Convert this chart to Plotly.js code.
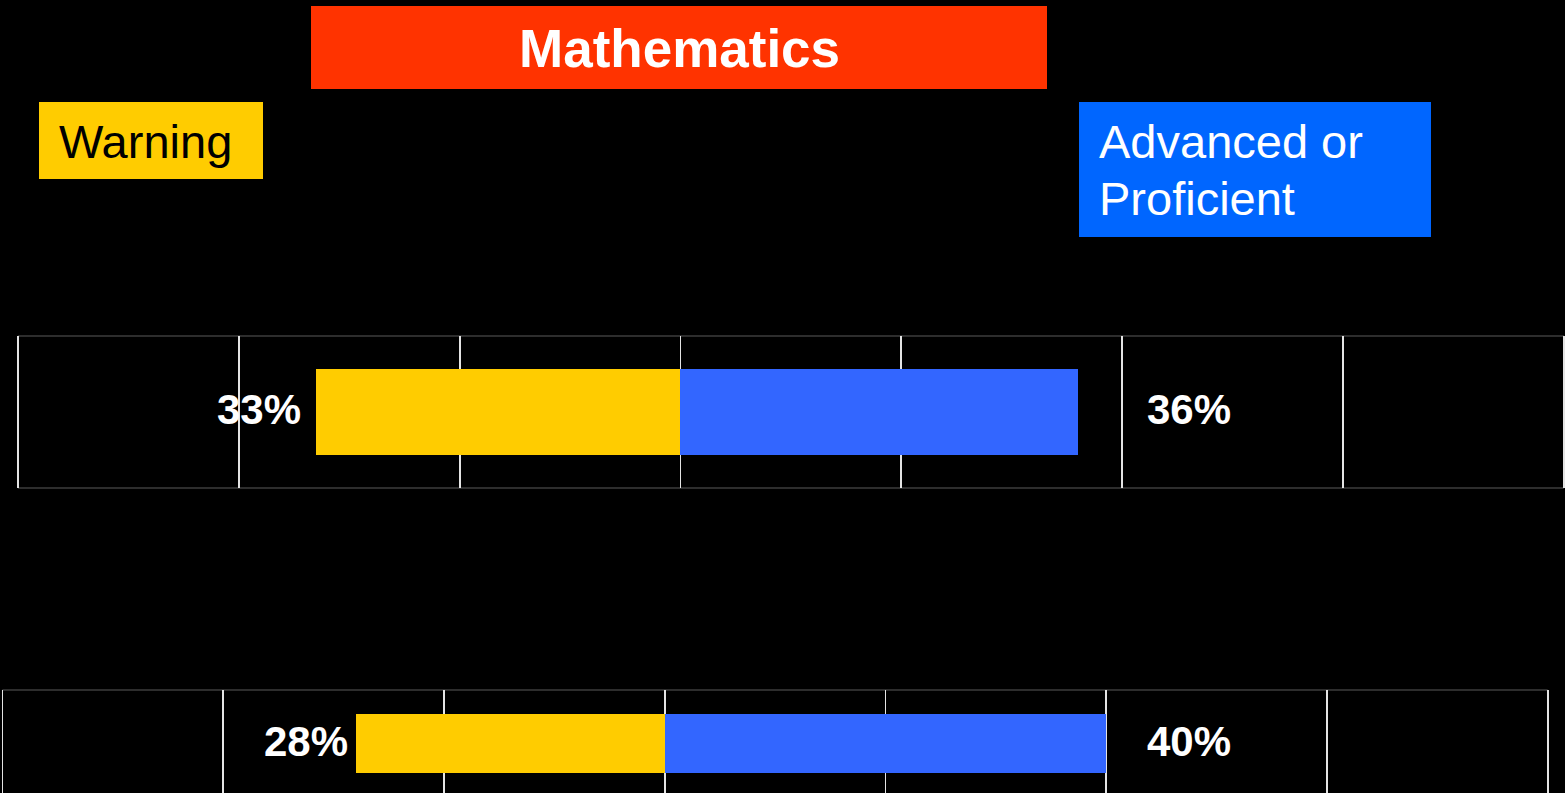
<!DOCTYPE html>
<html>
<head>
<meta charset="utf-8">
<script src="https://cdn.plot.ly/plotly-3.0.1.min.js"></script>
<style>
  html, body { margin: 0; padding: 0; background: #000; }
  #chart { width: 1565px; height: 793px; }
</style>
</head>
<body>
<div id="chart"></div>
<script>
// ---- Data ----
const subject = 'Mathematics';
const warningLabel = 'Warning';
const advancedLabelLines = ['Advanced or', 'Proficient'];
const rows = ['Row 1', 'Row 2'];
const warningPct = [33, 28];
const advancedPct = [36, 40];
const gridTicks = [-60, -40, -20, 0, 20, 40, 60, 80];

// ---- Layout helpers (pixel -> paper) ----
const W = 1565, H = 793;
const px = x => x / W;
const py = y => 1 - y / H;

const FONT = 'Liberation Sans, Arial, sans-serif';
const YELLOW = '#FFCC00', BLUE_BAR = '#3366FF', RED = '#FF3300', BLUE_BOX = '#0066FF';

const traces = [];
const axisSuffix = ['', '2'];
const barWidths = [0.56, 0.59];
const leftLabelShift = [-13, -6];

rows.forEach((r, i) => {
  const xa = 'x' + axisSuffix[i], ya = 'y' + axisSuffix[i];
  traces.push({
    type: 'bar', orientation: 'h', name: warningLabel,
    x: [-warningPct[i]], y: [0], width: [barWidths[i]],
    marker: { color: YELLOW, line: { width: 0 } },
    xaxis: xa, yaxis: ya, hoverinfo: 'skip', showlegend: false
  });
  traces.push({
    type: 'bar', orientation: 'h', name: advancedLabelLines.join(' '),
    x: [advancedPct[i]], y: [0], width: [barWidths[i]],
    marker: { color: BLUE_BAR, line: { width: 0 } },
    xaxis: xa, yaxis: ya, hoverinfo: 'skip', showlegend: false
  });
});

const xAxisBase = {
  tickvals: gridTicks, showticklabels: false, ticks: '',
  showgrid: true, gridcolor: '#e4e4e4', gridwidth: 1.8,
  zeroline: false, showline: false, fixedrange: true
};
const yAxisBase = {
  showgrid: false, zeroline: false, showline: false,
  showticklabels: false, ticks: '', fixedrange: true
};

const annotations = [];
const shapes = [];

// Title boxes
shapes.push({ type: 'rect', xref: 'paper', yref: 'paper', x0: px(311), x1: px(1047), y0: py(89), y1: py(6), fillcolor: RED, line: { width: 0 }, layer: 'below' });
shapes.push({ type: 'rect', xref: 'paper', yref: 'paper', x0: px(39), x1: px(263), y0: py(179), y1: py(102), fillcolor: YELLOW, line: { width: 0 }, layer: 'below' });
shapes.push({ type: 'rect', xref: 'paper', yref: 'paper', x0: px(1079), x1: px(1431), y0: py(237), y1: py(102), fillcolor: BLUE_BOX, line: { width: 0 }, layer: 'below' });

annotations.push({ text: '<b>' + subject + '</b>', xref: 'paper', yref: 'paper', x: px(679), y: py(48), xanchor: 'center', yanchor: 'middle', showarrow: false, font: { family: FONT, size: 53, color: '#ffffff' } });
annotations.push({ text: warningLabel, xref: 'paper', yref: 'paper', x: px(57), y: py(141), xanchor: 'left', yanchor: 'middle', showarrow: false, font: { family: FONT, size: 47, color: '#000000' } });
annotations.push({ text: advancedLabelLines[0], xref: 'paper', yref: 'paper', x: px(1097), y: py(141), xanchor: 'left', yanchor: 'middle', showarrow: false, font: { family: FONT, size: 47, color: '#ffffff' } });
annotations.push({ text: advancedLabelLines[1], xref: 'paper', yref: 'paper', x: px(1097), y: py(199), xanchor: 'left', yanchor: 'middle', showarrow: false, font: { family: FONT, size: 47, color: '#ffffff' } });

// Row frames and labels
rows.forEach((r, i) => {
  const xa = 'x' + axisSuffix[i], ya = 'y' + axisSuffix[i];
  shapes.push({ type: 'line', xref: xa, yref: ya + ' domain', x0: gridTicks[0], x1: gridTicks[gridTicks.length - 1], y0: 1, y1: 1, line: { color: '#5a5a5a', width: 1.2 }, layer: 'below' });
  if (i === 0) {
    shapes.push({ type: 'line', xref: xa, yref: ya + ' domain', x0: gridTicks[0], x1: gridTicks[gridTicks.length - 1], y0: 0, y1: 0, line: { color: '#5a5a5a', width: 1.2 }, layer: 'below' });
  }
  annotations.push({ text: '<b>' + warningPct[i] + '%</b>', xref: xa, yref: ya, x: -warningPct[i], y: 0, xanchor: 'right', yanchor: 'middle', xshift: leftLabelShift[i], yshift: 2, showarrow: false, font: { family: FONT, size: 42, color: '#ffffff' } });
  annotations.push({ text: '<b>' + advancedPct[i] + '%</b>', xref: 'paper', yref: ya, x: px(1145), y: 0, xanchor: 'left', yanchor: 'middle', yshift: 2, showarrow: false, font: { family: FONT, size: 42, color: '#ffffff' } });
});

const layout = {
  width: W, height: H,
  paper_bgcolor: '#000000', plot_bgcolor: 'rgba(0,0,0,0)',
  margin: { l: 0, r: 0, t: 0, b: 0, pad: 0 },
  barmode: 'overlay', bargap: 0,
  showlegend: false,
  xaxis: Object.assign({}, xAxisBase, { domain: [0, 1], range: [-61.63, 80.11], anchor: 'y' }),
  yaxis: Object.assign({}, yAxisBase, { domain: [py(488), py(336)], range: [-0.5, 0.5], anchor: 'x' }),
  xaxis2: Object.assign({}, xAxisBase, { domain: [0, 1], range: [-60.22, 81.57], anchor: 'y2' }),
  yaxis2: Object.assign({}, yAxisBase, { domain: [0, py(690)], range: [-0.495, 0.535], anchor: 'x2' }),
  shapes: shapes,
  annotations: annotations
};

Plotly.newPlot('chart', traces, layout, { staticPlot: true, displayModeBar: false });
</script>
</body>
</html>
